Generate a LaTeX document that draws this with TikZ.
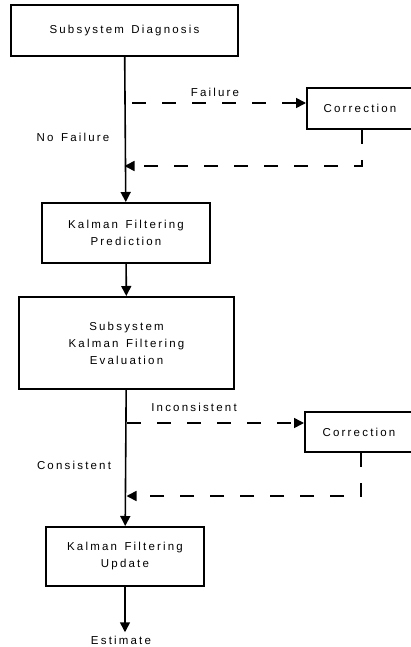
\documentclass[tikz,border=0pt]{standalone}
\usepackage{fontspec}
\setmainfont{Liberation Sans}[LetterSpace=19, WordSpace=1.4]
\usetikzlibrary{arrows.meta}

\begin{document}
\begin{tikzpicture}[%
        x = 1pt,
        y = -1pt,
        font = \fontsize{11.5}{17}\selectfont,
        > = {Triangle[length = 10pt, width = 10pt]},
        box/.style = {%
            draw = black,
            line width = 2pt,
            align = center,
            inner sep = 0pt
        },
        flow/.style = {%
            ->,
            line width = 1.6pt
        },
        dasharrow/.style = {%
            ->,
            line width = 1.6pt,
            dash pattern = on 14pt off 16pt
        }
    ]
        \useasboundingbox (0, 0) rectangle (410, 647);
        % main chain
        \node (diag) at (124.5, 30.5) [box, minimum width = 227pt, minimum height = 51pt] {Subsystem Diagnosis};
        \node (pred) at (126, 233) [box, minimum width = 168pt, minimum height = 60pt] {Kalman Filtering\\Prediction};
        \node (eval) at (126.5, 343) [box, minimum width = 215pt, minimum height = 92pt] {Subsystem\\Kalman Filtering\\Evaluation};
        \node (upd) at (125, 556.5) [box, minimum width = 158pt, minimum height = 59pt] {Kalman Filtering\\Update};
        \node (est) at (121, 640) {Estimate};
        % corrections
        \node (corra) at (360, 108.5) [box, minimum width = 106pt, minimum height = 41pt] {Correction};
        \node (corrb) at (359, 432) [box, minimum width = 108pt, minimum height = 40pt] {Correction};
        \coordinate (fa) at (132, 103);
        \coordinate (ra) at (362, 166);
        \coordinate (fb) at (127, 423);
        \coordinate (rb) at (361, 496);
        \draw[flow] (diag) to (pred);
        \draw[flow] (pred) to (eval);
        \draw[flow] (eval) to (upd);
        \draw[flow] (upd) to (upd |- est.north);
        \draw[dasharrow] (fa) to (fa -| corra.west);
        \draw[dasharrow] (ra |- corra.south) |- (diag.south |- ra);
        \draw[dasharrow] (fb) to (fb -| corrb.west);
        \draw[dasharrow] (rb |- corrb.south) |- (eval.south |- rb);
        % labels
        \node (lfail) at (215, 92) {Failure};
        \node (lnofail) at (73, 137) {No Failure};
        \node (lincons) at (194, 407) {Inconsistent};
        \node (lcons) at (74, 465) {Consistent};
    \end{tikzpicture}
\end{document}
